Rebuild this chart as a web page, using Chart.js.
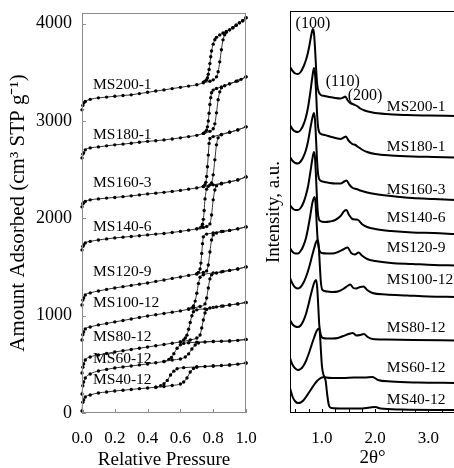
<!DOCTYPE html>
<html>
<head>
  <title>Isotermas de N2 y DRX</title>
  <script src="https://cdn.jsdelivr.net/npm/chart.js"></script>
  <style>
    body { margin: 0; background: #fff; overflow: hidden; }
    #wrap { position: relative; width: 454px; height: 468px; overflow: hidden; }
    canvas { position: absolute; top: 0; }
  </style>
</head>
<body>
  <div id="wrap">
    <canvas id="isoChart" width="260" height="468" style="left:0"></canvas>
    <canvas id="xrdChart" width="198" height="468" style="left:262px"></canvas>
  </div>

  <script>
    // nombres de las muestras (de arriba a abajo)
    const samples = ['MS200-1', 'MS180-1', 'MS160-3', 'MS140-6', 'MS120-9', 'MS100-12', 'MS80-12', 'MS60-12', 'MS40-12'];

    // isotermas: [presion relativa, cantidad adsorbida] (ya desplazadas)
    const ms200Ads = [[0,3115],[0.005,3160],[0.01,3185],[0.02,3200],[0.05,3223],[0.1,3238],[0.15,3246],[0.2,3254],[0.25,3262],[0.3,3269],[0.35,3282],[0.4,3295],[0.45,3308],[0.5,3320],[0.55,3333],[0.6,3346],[0.65,3359],[0.7,3372],[0.74,3393],[0.78,3408],[0.8,3423],[0.82,3454],[0.83,3506],[0.84,3608],[0.85,3732],[0.86,3834],[0.87,3886],[0.88,3912],[0.9,3937],[0.92,3958],[0.94,3984],[0.96,4009],[0.98,4030],[1.0,4061]];
    const ms200Des = [[0.74,3400],[0.75,3410],[0.76,3425],[0.765,3445],[0.77,3480],[0.775,3530],[0.78,3590],[0.785,3660],[0.79,3720],[0.8,3790],[0.81,3835],[0.82,3860],[0.84,3885],[0.86,3905],[0.88,3920],[0.9,3937],[0.92,3958],[0.94,3984],[0.96,4009],[0.98,4030],[1.0,4061]];
    const ms180Ads = [[0,2621],[0.005,2660],[0.01,2673],[0.02,2704],[0.05,2724],[0.1,2734],[0.15,2745],[0.2,2755],[0.25,2763],[0.3,2772],[0.35,2782],[0.4,2791],[0.45,2798],[0.5,2806],[0.55,2816],[0.6,2827],[0.65,2840],[0.7,2853],[0.74,2873],[0.78,2894],[0.8,2920],[0.81,2971],[0.82,3084],[0.83,3218],[0.84,3300],[0.85,3341],[0.87,3362],[0.9,3382],[0.94,3408],[0.97,3428],[1.0,3454]];
    const ms180Des = [[0.74,2873],[0.75,2885],[0.76,2905],[0.765,2940],[0.77,3000],[0.775,3080],[0.78,3170],[0.785,3240],[0.79,3290],[0.8,3318],[0.82,3335],[0.85,3350],[0.9,3382],[0.95,3413],[1.0,3454]];
    const ms160Ads = [[0,2118],[0.005,2150],[0.01,2159],[0.02,2174],[0.05,2190],[0.1,2200],[0.15,2208],[0.2,2215],[0.25,2223],[0.3,2231],[0.35,2241],[0.4,2251],[0.45,2259],[0.5,2267],[0.55,2277],[0.6,2287],[0.65,2300],[0.7,2313],[0.74,2328],[0.78,2344],[0.79,2364],[0.8,2447],[0.81,2601],[0.82,2755],[0.83,2827],[0.85,2858],[0.9,2884],[0.95,2909],[1.0,2940]];
    const ms160Des = [[0.74,2328],[0.75,2345],[0.755,2370],[0.76,2430],[0.765,2530],[0.77,2650],[0.775,2770],[0.78,2820],[0.8,2840],[0.85,2862],[0.9,2884],[0.95,2909],[1.0,2940]];
    const ms140Ads = [[0,1676],[0.005,1712],[0.01,1727],[0.02,1748],[0.05,1763],[0.1,1778],[0.15,1789],[0.2,1799],[0.25,1807],[0.3,1814],[0.35,1822],[0.4,1830],[0.45,1838],[0.5,1845],[0.55,1855],[0.6,1866],[0.65,1879],[0.7,1892],[0.74,1907],[0.76,1917],[0.78,1943],[0.79,2035],[0.8,2190],[0.81,2292],[0.82,2334],[0.85,2354],[0.9,2375],[0.95,2395],[1.0,2426]];
    const ms140Des = [[0.7,1892],[0.72,1902],[0.73,1915],[0.735,1940],[0.74,1990],[0.745,2080],[0.75,2200],[0.76,2300],[0.77,2330],[0.8,2344],[0.85,2360],[0.9,2375],[0.95,2395],[1.0,2426]];
    const ms120Ads = [[0,1110],[0.005,1160],[0.01,1182],[0.02,1213],[0.05,1234],[0.1,1254],[0.15,1270],[0.2,1285],[0.25,1298],[0.3,1311],[0.35,1324],[0.4,1336],[0.45,1352],[0.5,1367],[0.55,1383],[0.6,1398],[0.65,1414],[0.7,1429],[0.74,1444],[0.76,1460],[0.77,1521],[0.78,1655],[0.79,1778],[0.8,1830],[0.82,1850],[0.86,1866],[0.9,1876],[0.95,1892],[1.0,1912]];
    const ms120Des = [[0.7,1429],[0.71,1445],[0.72,1480],[0.725,1540],[0.73,1640],[0.735,1740],[0.74,1810],[0.76,1838],[0.8,1850],[0.85,1865],[0.9,1876],[0.95,1892],[1.0,1912]];
    const ms100Ads = [[0,750],[0.005,805],[0.01,833],[0.02,864],[0.05,884],[0.1,905],[0.15,920],[0.2,936],[0.25,951],[0.3,966],[0.35,982],[0.4,997],[0.45,1010],[0.5,1023],[0.55,1036],[0.6,1049],[0.65,1066],[0.68,1079],[0.72,1095],[0.75,1121],[0.76,1182],[0.77,1285],[0.78,1378],[0.79,1419],[0.82,1439],[0.86,1455],[0.9,1465],[0.95,1480],[1.0,1501]];
    const ms100Des = [[0.65,1070],[0.67,1080],[0.68,1100],[0.69,1150],[0.7,1230],[0.71,1330],[0.72,1395],[0.74,1420],[0.8,1439],[0.85,1450],[0.9,1465],[0.95,1480],[1.0,1501]];
    const ms80Ads = [[0,411],[0.005,470],[0.01,504],[0.02,545],[0.05,576],[0.1,596],[0.15,612],[0.2,627],[0.25,640],[0.3,653],[0.35,666],[0.4,678],[0.45,691],[0.5,704],[0.55,717],[0.6,730],[0.66,750],[0.7,771],[0.72,802],[0.73,874],[0.74,956],[0.75,1028],[0.76,1064],[0.78,1079],[0.82,1090],[0.86,1100],[0.9,1110],[0.95,1121],[1.0,1136]];
    const ms80Des = [[0.6,730],[0.62,750],[0.63,770],[0.64,800],[0.65,860],[0.66,930],[0.67,1000],[0.68,1040],[0.7,1060],[0.75,1070],[0.8,1085],[0.85,1098],[0.9,1110],[0.95,1121],[1.0,1136]];
    const ms60Ads = [[0,195],[0.005,280],[0.01,319],[0.02,360],[0.05,401],[0.1,432],[0.15,448],[0.2,463],[0.25,473],[0.3,483],[0.35,494],[0.4,504],[0.45,517],[0.5,529],[0.55,545],[0.6,555],[0.63,576],[0.65,607],[0.67,658],[0.69,699],[0.71,720],[0.75,730],[0.8,735],[0.85,737],[0.9,740],[0.95,746],[1.0,756]];
    const ms60Des = [[0.5,529],[0.53,550],[0.545,570],[0.56,610],[0.58,665],[0.6,700],[0.62,715],[0.65,722],[0.7,727],[0.8,735],[0.9,740],[1.0,756]];
    const ms40Ads = [[0,20],[0.005,110],[0.01,134],[0.02,164],[0.05,185],[0.1,206],[0.15,216],[0.2,226],[0.25,234],[0.3,242],[0.35,250],[0.4,257],[0.45,265],[0.5,272],[0.55,283],[0.6,298],[0.62,319],[0.64,360],[0.66,421],[0.68,457],[0.7,473],[0.75,478],[0.8,483],[0.85,488],[0.9,493],[0.95,502],[1.0,514]];
    const ms40Des = [[0.45,265],[0.48,280],[0.5,300],[0.52,335],[0.54,390],[0.56,430],[0.58,455],[0.62,466],[0.7,473],[0.8,483],[0.9,493],[1.0,514]];

    // difractogramas: [2 theta, intensidad desplazada]
    const xrd200 = [[0.4,346],[0.45,342],[0.5,339.5],[0.55,339],[0.6,341],[0.65,346],[0.7,353],[0.74,361],[0.77,369],[0.8,378],[0.83,384],[0.85,380],[0.87,365],[0.89,345],[0.91,329],[0.94,321],[0.98,318],[1.05,317],[1.15,316],[1.25,315],[1.35,314.5],[1.4,315.5],[1.44,316.5],[1.48,313],[1.53,310],[1.6,308.5],[1.66,307],[1.72,304.5],[1.8,302.5],[1.95,300.5],[2.2,299],[2.6,298],[3.0,297.5],[3.5,297]];
    const xrd180 = [[0.4,288],[0.45,283.5],[0.5,281.5],[0.55,281],[0.6,283],[0.65,288],[0.7,296],[0.74,306],[0.78,320],[0.82,336],[0.85,345],[0.87,339],[0.89,321],[0.91,298],[0.93,285],[0.97,279.5],[1.05,278],[1.15,276.5],[1.25,275],[1.35,274],[1.41,275.5],[1.45,276.5],[1.5,272.5],[1.57,269],[1.63,268],[1.68,266],[1.75,263.5],[1.85,261],[2.0,259],[2.3,257.5],[2.7,256.5],[3.1,256],[3.5,255.5]];
    const xrd160 = [[0.4,256],[0.45,252],[0.5,250],[0.55,249.5],[0.6,251.5],[0.65,256],[0.7,263],[0.74,272],[0.78,284],[0.82,295],[0.85,300],[0.87,293],[0.89,273],[0.91,251],[0.93,238],[0.97,232.5],[1.05,231],[1.15,230],[1.25,229.5],[1.35,229.5],[1.42,231.5],[1.46,232.5],[1.52,228],[1.58,225],[1.65,224],[1.72,222.5],[1.85,220.5],[2.0,219],[2.3,217],[2.7,215],[3.1,214],[3.5,213]];
    const xrd140 = [[0.4,208],[0.45,204.5],[0.5,203],[0.55,203],[0.6,205],[0.65,210],[0.7,218],[0.74,227],[0.78,240],[0.82,254],[0.85,261],[0.87,255],[0.89,235],[0.91,211],[0.93,197],[0.97,192],[1.05,191],[1.15,191.5],[1.25,193],[1.35,197],[1.42,202],[1.46,203],[1.51,198],[1.57,194],[1.63,193.5],[1.68,193],[1.75,189],[1.85,186],[2.0,184],[2.3,182],[2.7,180.5],[3.1,180],[3.5,179]];
    const xrd120 = [[0.4,165],[0.45,161],[0.5,159.5],[0.55,159.5],[0.6,162],[0.65,167],[0.7,175],[0.74,185],[0.78,197],[0.82,210],[0.86,216],[0.88,210],[0.9,191],[0.92,173],[0.95,163],[1.0,160],[1.1,159.5],[1.2,159.5],[1.3,161],[1.4,163.5],[1.48,165.5],[1.55,160],[1.62,158.5],[1.69,160.5],[1.75,157.5],[1.85,154],[2.0,152],[2.3,150],[2.7,149],[3.1,148],[3.5,147.5]];
    const xrd100 = [[0.4,135],[0.45,129],[0.5,125.5],[0.55,124.5],[0.6,126],[0.65,130],[0.7,136],[0.75,144],[0.8,154],[0.85,164],[0.89,171],[0.92,173],[0.94,167],[0.96,148],[0.98,131],[1.01,123],[1.1,121.5],[1.2,121],[1.3,121.5],[1.4,124],[1.48,127],[1.53,128.5],[1.59,125],[1.64,124.5],[1.72,126],[1.78,126.5],[1.85,123],[1.95,120],[2.2,118.5],[2.6,117.5],[3.0,116.5],[3.5,116]];
    const xrd80 = [[0.4,93],[0.45,88.5],[0.5,86.5],[0.55,86],[0.6,87.5],[0.65,92],[0.7,99],[0.75,109],[0.8,120],[0.85,129.5],[0.89,133],[0.91,126],[0.93,108],[0.95,88],[0.98,78],[1.02,75],[1.1,74.5],[1.2,74.5],[1.3,75],[1.4,77],[1.5,79],[1.58,80],[1.65,77.5],[1.72,78],[1.79,79],[1.86,76],[1.95,74],[2.2,73.5],[2.7,73],[3.5,72.5]];
    const xrd60 = [[0.4,55],[0.45,48],[0.5,44.5],[0.55,43],[0.6,44],[0.65,47],[0.7,52],[0.75,59],[0.8,67],[0.85,75],[0.9,82],[0.94,84.5],[0.96,81],[0.98,63],[1.0,47],[1.03,38],[1.08,35.5],[1.2,35],[1.4,35],[1.6,35.5],[1.8,35.5],[1.95,36],[2.05,33],[2.3,31.5],[2.8,30.5],[3.5,30]];
    const xrd40 = [[0.4,25],[0.45,16],[0.5,11.5],[0.55,10],[0.6,10.5],[0.65,12.5],[0.7,16],[0.75,20],[0.8,24],[0.85,28],[0.9,31.5],[0.95,34],[1.0,35.5],[1.04,36],[1.07,32],[1.1,18],[1.13,8],[1.18,5],[1.4,4.5],[1.7,4.5],[1.9,5.5],[2.0,6],[2.1,4.5],[2.5,3.5],[3.5,3]];

    const isoAds = [ms200Ads, ms180Ads, ms160Ads, ms140Ads, ms120Ads, ms100Ads, ms80Ads, ms60Ads, ms40Ads];
    const isoDes = [ms200Des, ms180Des, ms160Des, ms140Des, ms120Des, ms100Des, ms80Des, ms60Des, ms40Des];
    const xrdCurves = [xrd200, xrd180, xrd160, xrd140, xrd120, xrd100, xrd80, xrd60, xrd40];

    // marcas de los ejes
    const pTicks = [0, 0.2, 0.4, 0.6, 0.8, 1.0];
    const amountTicks = [0, 1000, 2000, 3000, 4000];
    const thetaTicks = [0.5, 0.75, 1.0, 1.25, 1.5, 1.75, 2.0, 2.25, 2.5, 2.75, 3.0, 3.25, 3.5];

    // donde va cada nombre (en unidades de los ejes)
    const isoLabelAt = [[0.067,3370],[0.067,2858],[0.067,2364],[0.067,1912],[0.067,1450],[0.067,1131],[0.067,781],[0.067,555],[0.067,339]];
    const xrdLabelAt = [[2.22,306],[2.22,266],[2.22,223],[2.22,195],[2.22,165],[2.22,133],[2.22,85],[2.22,45],[2.22,13]];
    const hklText = ['(100)', '(110)', '(200)'];
    const hklAt = [[0.83,389],[1.39,331],[1.81,317]];

    const SERIF = "'Liberation Serif', 'Times New Roman', serif";
    const toXY = (arr) => arr.map(([x, y]) => ({ x, y }));
    const setTicks = (vals) => (s) => { s.ticks = vals.map(v => ({ value: v })); };
    // tamaño fijo del eje y sin relleno extra por las etiquetas
    const fixX = (h) => (s) => { s.height = h; s.paddingLeft = 0; s.paddingRight = 0; };
    const fixY = (w) => (s) => { s.width = w; s.paddingTop = 0; s.paddingBottom = 0; };

    // marco, marcas hacia dentro y textos
    const marco = {
      id: 'marco',
      beforeDatasetsDraw(chart, args, o) {
        const { ctx, scales } = chart;
        ctx.save();
        ctx.fillStyle = '#000';
        ctx.textBaseline = 'middle';
        (o.labels || []).forEach(l => {
          ctx.font = l.font;
          ctx.textAlign = l.align;
          ctx.fillText(l.text, scales.x.getPixelForValue(l.x), scales.y.getPixelForValue(l.y));
        });
        ctx.restore();
      },
      afterDraw(chart, args, o) {
        const { ctx, chartArea: a, scales } = chart;
        ctx.save();
        ctx.strokeStyle = o.color;
        ctx.lineWidth = 1;
        ctx.strokeRect(a.left + 0.5, a.top + 0.5, a.right - a.left - 1, a.bottom - a.top - 1);
        ctx.beginPath();
        scales.x.ticks.forEach(t => {
          const px = Math.round(scales.x.getPixelForValue(t.value)) + 0.5;
          ctx.moveTo(px, a.bottom);
          ctx.lineTo(px, a.bottom - o.tick);
        });
        if (o.yTicks) {
          scales.y.ticks.forEach(t => {
            const py = Math.round(scales.y.getPixelForValue(t.value)) + 0.5;
            ctx.moveTo(a.left, py);
            ctx.lineTo(a.left + o.tick, py);
          });
        }
        ctx.stroke();
        ctx.restore();
      }
    };

    // ---- isotermas ----
    const isoSets = [];
    samples.forEach((s, i) => {
      [isoAds[i], isoDes[i]].forEach((branch, k) => {
        isoSets.push({
          label: s + (k === 0 ? ' ads' : ' des'),
          data: toXY(branch),
          borderColor: '#333',
          borderWidth: 1,
          pointRadius: 1.7,
          pointHoverRadius: 1.7,
          pointBackgroundColor: '#000',
          pointBorderWidth: 0,
          cubicInterpolationMode: 'monotone',
          clip: 4
        });
      });
    });

    new Chart(document.getElementById('isoChart'), {
      type: 'line',
      data: { datasets: isoSets },
      plugins: [marco],
      options: {
        responsive: false,
        animation: false,
        events: [],
        layout: { autoPadding: false, padding: { top: 13, right: 14, left: 0, bottom: 0 } },
        scales: {
          x: {
            type: 'linear', min: 0, max: 1,
            grid: { display: false, drawTicks: false }, border: { display: false },
            afterBuildTicks: setTicks(pTicks),
            ticks: { padding: 15, color: '#000', autoSkip: false, maxRotation: 0,
                     font: { family: SERIF, size: 17 }, callback: v => Number(v).toFixed(1) },
            title: { display: true, text: 'Relative Pressure', color: '#000',
                     font: { family: SERIF, size: 19, lineHeight: 1 }, padding: { top: 0, bottom: -2 } },
            afterFit: fixX(55)
          },
          y: {
            type: 'linear', min: 0, max: 4110,
            grid: { display: false, drawTicks: false }, border: { display: false },
            afterBuildTicks: setTicks(amountTicks),
            ticks: { padding: 10, color: '#000', autoSkip: false,
                     font: { family: SERIF, size: 18 }, callback: v => String(v) },
            title: { display: true, text: 'Amount Adsorbed (cm\u00B3 STP g\u207B\u00B9)', color: '#000',
                     font: { family: SERIF, size: 21, lineHeight: 1 }, padding: { top: 8, bottom: 0 } },
            afterFit: fixY(82)
          }
        },
        plugins: {
          legend: { display: false },
          tooltip: { enabled: false },
          marco: {
            color: '#8a8a8a', tick: 4, yTicks: true,
            labels: samples.map((s, i) => ({ text: s, x: isoLabelAt[i][0], y: isoLabelAt[i][1],
                                             align: 'left', font: '15.5px ' + SERIF }))
          }
        }
      }
    });

    // ---- DRX ----
    const xrdSets = xrdCurves.map((c, i) => ({
      label: samples[i],
      data: toXY(c),
      borderColor: '#000',
      borderWidth: 2,
      pointRadius: 0,
      pointHoverRadius: 0,
      cubicInterpolationMode: 'monotone'
    }));

    const xrdLabels = samples.map((s, i) => ({ text: s, x: xrdLabelAt[i][0], y: xrdLabelAt[i][1],
                                              align: 'left', font: '15.5px ' + SERIF }))
      .concat(hklText.map((t, i) => ({ text: t, x: hklAt[i][0], y: hklAt[i][1],
                                      align: 'center', font: '16px ' + SERIF })));

    new Chart(document.getElementById('xrdChart'), {
      type: 'line',
      data: { datasets: xrdSets },
      plugins: [marco],
      options: {
        responsive: false,
        animation: false,
        events: [],
        layout: { autoPadding: false, padding: { top: 11, right: 5, left: 0, bottom: 0 } },
        scales: {
          x: {
            type: 'linear', min: 0.4, max: 3.5,
            grid: { display: false, drawTicks: false }, border: { display: false },
            afterBuildTicks: setTicks(thetaTicks),
            ticks: { padding: 15, color: '#000', autoSkip: false, maxRotation: 0,
                     font: { family: SERIF, size: 17 },
                     callback: v => (Math.abs(v - Math.round(v)) < 1e-6 ? Number(v).toFixed(1) : '') },
            title: { display: true, text: '2\u03B8\u00B0', color: '#000',
                     font: { family: SERIF, size: 19, lineHeight: 1 }, padding: { top: 0, bottom: 0 } },
            afterFit: fixX(55)
          },
          y: {
            type: 'linear', min: 0, max: 402,
            grid: { display: false, drawTicks: false }, border: { display: false },
            ticks: { display: false },
            title: { display: true, text: 'Intensity, a.u.', color: '#000',
                     font: { family: SERIF, size: 19, lineHeight: 1 }, padding: { top: 3, bottom: 0 } },
            afterFit: fixY(28)
          }
        },
        plugins: {
          legend: { display: false },
          tooltip: { enabled: false },
          marco: { color: '#000', tick: 4, yTicks: false, labels: xrdLabels }
        }
      }
    });
  </script>
</body>
</html>
